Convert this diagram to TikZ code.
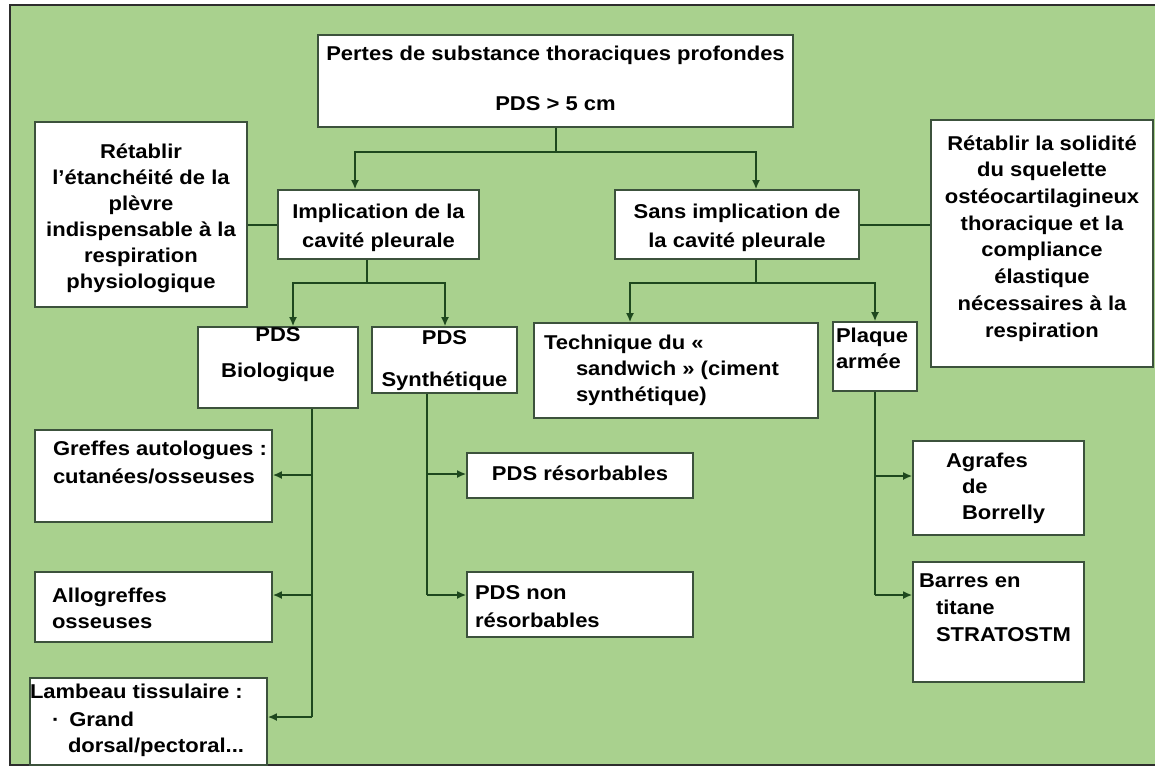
\documentclass[tikz,border=0pt]{standalone}
\usepackage{fontspec}
\setmainfont{Liberation Sans}[FakeStretch=1.1]
\usepackage{tikz}
\usetikzlibrary{arrows.meta}
\definecolor{bggreen}{RGB}{169,209,142}
\definecolor{wiregreen}{RGB}{30,72,30}
\definecolor{boxedge}{RGB}{60,82,60}
\definecolor{framegray}{RGB}{45,45,45}
\newdimen\pxu \pxu=0.5pt
% box content: width, height, top gap (in px), text
\newcommand{\boxtxt}[4]{\parbox[c][#2\pxu][t]{#1\pxu}{\vspace*{#3\pxu}#4}}
\tikzstyle{chart}=[x=0.5pt, y=-0.5pt, font=\fontsize{10}{13}\selectfont\bfseries]
\tikzstyle{box}=[rectangle, draw=boxedge, fill=white, inner sep=0pt, line width=0.8pt]
\tikzstyle{pipe}=[-, draw=wiregreen, line width=1pt]
\tikzstyle{edge}=[pipe, -{Latex[length=4.5pt, width=4pt]}]
\tikzstyle{frame}=[draw=framegray, line width=1pt]
\begin{document}
\begin{tikzpicture}[chart]
	\useasboundingbox (0,0) rectangle (1155,767);
	%The green panel
	\fill[bggreen] (10,5) rectangle (1155,765);
	\draw[frame] (1155,5) -- (10,5) -- (10,765) -- (1155,765);
	
	%The first level
	\draw (555.5,81) node[box] (top) {\boxtxt{475}{92}{10.5}{\centering Pertes de substance thoraciques profondes\\[12pt] PDS > 5 cm}};
	\draw (141,214.5) node[box] (leftnote) {\boxtxt{212}{185}{21.5}{\centering Rétablir\\ l’étanchéité de la\\ plèvre\\ indispensable à la\\ respiration\\ physiologique}};
	\draw (378.5,224.5) node[box] (impl) {\boxtxt{201}{69}{13.5}{\centering Implication de la\\[1.5pt] cavité pleurale}};
	\draw (737,224.5) node[box] (sans) {\boxtxt{244}{69}{13.5}{\centering Sans implication de\\[1.5pt] la cavité pleurale}};
	\draw (1042,243.5) node[box] (rightnote) {\boxtxt{222}{247}{15.5}{\centering\fontsize{10}{13.35}\selectfont Rétablir la solidité\\ du squelette\\ ostéocartilagineux\\ thoracique et la\\ compliance\\ élastique\\ nécessaires à la\\ respiration}};
	
	%The second level
	\draw (278,367.5) node[box] (bio) {\boxtxt{160}{81}{0.5}{\centering PDS\\[5pt] Biologique}};
	\draw (444.5,360) node[box] (syn) {\boxtxt{145}{66}{3.5}{\centering PDS\\[8pt] Synthétique}};
	\draw (676,370.5) node[box] (tech) {\boxtxt{284}{95}{11.5}{\raggedright\leftskip=5pt Technique du «\\ \hspace*{16pt}sandwich » (ciment\\ \hspace*{16pt}synthétique)}};
	\draw (875,356.5) node[box] (plaq) {\boxtxt{84}{69}{5.5}{\raggedright\leftskip=1.5pt Plaque\\ armée}};
	
	%The leaves
	\draw (153.5,476) node[box] (greffes) {\boxtxt{237}{92}{10.5}{\raggedright\leftskip=9pt Greffes autologues~:\\[1pt] cutanées/osseuses}};
	\draw (153.5,607) node[box] (allo) {\boxtxt{237}{70}{15.5}{\raggedright\leftskip=8.5pt Allogreffes\\ osseuses}};
	\draw (148.5,721.5) node[box] (lamb) {\boxtxt{237}{87}{5.5}{\raggedright Lambeau tissulaire~:\\[1pt] \hspace*{11pt}·\hspace*{5pt}Grand\\ \hspace*{19pt}dorsal/pectoral...}};
	\draw (580,475.5) node[box] (resorb) {\boxtxt{226}{45}{12.5}{\centering PDS résorbables}};
	\draw (580,604.5) node[box] (nonres) {\boxtxt{226}{65}{13.5}{\raggedright\leftskip=4pt PDS non\\[1pt] résorbables}};
	\draw (998.5,488) node[box] (agrafes) {\boxtxt{171}{94}{11.5}{\raggedright\leftskip=16.5pt Agrafes\\ \hspace*{8pt}de\\ \hspace*{8pt}Borrelly}};
	\draw (998.5,622) node[box] (barres) {\boxtxt{171}{120}{11.5}{\raggedright\leftskip=3pt Barres en\\[0.5pt] \hspace*{8.5pt}titane\\[0.5pt] \hspace*{8.5pt}STRATOSTM}};
	
	%Splits below the top box
	\coordinate (split1) at (556,152);
	\coordinate (impl-in) at (355,152);
	\coordinate (sans-in) at (756,152);
	\draw[pipe] (split1 |- top.south) -- (split1);
	\draw[edge] (split1) -- (impl-in) -- (impl-in |- impl.north);
	\draw[edge] (split1) -- (sans-in) -- (sans-in |- sans.north);
	
	%The side notes
	\draw[pipe] (leftnote.east |- impl) -- (impl.west);
	\draw[pipe] (sans.east) -- (rightnote.west |- sans);
	
	%Splits below the second row
	\coordinate (split2) at (367,283);
	\coordinate (bio-in) at (293,283);
	\coordinate (syn-in) at (445,283);
	\draw[pipe] (split2 |- impl.south) -- (split2);
	\draw[edge] (split2) -- (bio-in) -- (bio-in |- bio.north);
	\draw[edge] (split2) -- (syn-in) -- (syn-in |- syn.north);
	
	\coordinate (split3) at (756,283);
	\coordinate (tech-in) at (630,283);
	\coordinate (plaq-in) at (875,283);
	\draw[pipe] (split3 |- sans.south) -- (split3);
	\draw[edge] (split3) -- (tech-in) -- (tech-in |- tech.north);
	\draw[edge] (split3) -- (plaq-in) -- (plaq-in |- plaq.north);
	
	%Biological branch
	\coordinate (bio-t1) at (312,475);
	\coordinate (bio-t2) at (312,595);
	\coordinate (bio-t3) at (312,717);
	\draw[pipe] (bio-t1 |- bio.south) -- (bio-t3);
	\draw[edge] (bio-t1) -- (greffes.east |- bio-t1);
	\draw[edge] (bio-t2) -- (allo.east |- bio-t2);
	\draw[edge] (bio-t3) -- (lamb.east |- bio-t3);
	
	%Synthetic branch
	\coordinate (syn-t1) at (427,474);
	\coordinate (syn-t2) at (427,595);
	\draw[pipe] (syn-t1 |- syn.south) -- (syn-t2);
	\draw[edge] (syn-t1) -- (resorb.west |- syn-t1);
	\draw[edge] (syn-t2) -- (nonres.west |- syn-t2);
	
	%Plate branch
	\coordinate (plaq-t1) at (875,476);
	\coordinate (plaq-t2) at (875,595);
	\draw[pipe] (plaq-t1 |- plaq.south) -- (plaq-t2);
	\draw[edge] (plaq-t1) -- (agrafes.west |- plaq-t1);
	\draw[edge] (plaq-t2) -- (barres.west |- plaq-t2);
\end{tikzpicture}
\end{document}
